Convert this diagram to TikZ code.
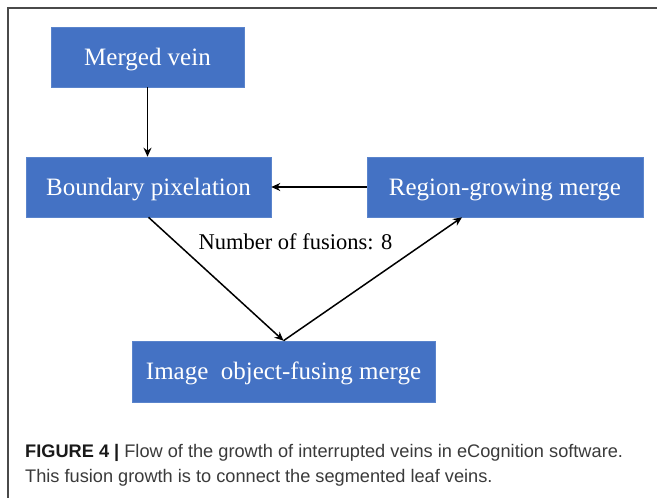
\documentclass[tikz,border=0pt]{standalone}
\usepackage{fontspec}
\setmainfont{Liberation Serif}
\newfontfamily\capfont{Liberation Sans}
\usetikzlibrary{arrows.meta,positioning}
\definecolor{boxblue}{HTML}{4472C4}
\definecolor{boxedge}{HTML}{5A84CC}
\definecolor{framegray}{HTML}{4A4A4A}
\definecolor{captext}{HTML}{3A3A3A}
\tikzset{
  flowbox/.style={rectangle, fill=boxblue, draw=boxedge, line width=0.6pt,
    text=white, font=\fontsize{25}{28}\selectfont, inner sep=0pt,
    text height=16.5pt, text depth=0pt, minimum height=60pt},
  flowarrow/.style={draw=black, line width=1.5pt, -{Stealth[length=9pt,width=8pt]}},
}
\begin{document}
\begin{tikzpicture}[x=1pt,y=-1pt]
\useasboundingbox (0,0) rectangle (657,498);
\fill[white] (0,0) rectangle (657,498);
% frame
\draw[framegray, line width=1.2pt] (8,498) -- (8,8) -- (657,8);
% boxes
\node[flowbox, minimum width=193pt] (merged) at (147.5,57) {Merged vein};
\node[flowbox, minimum width=245pt] (bound) at (148.5,187) {Boundary pixelation};
\node[flowbox, minimum width=276pt] (region) at (505,187) {Region-growing merge};
\node[flowbox, minimum width=303pt, minimum height=61pt] (image) at (283.5,371.5) {Image\ \ object-fusing merge};
\coordinate (regin) at ([xshift=-43pt]region.south);
\coordinate (bout) at (bound.south);
\coordinate (bin) at (merged.south |- bound.north);
% arrows
\draw[flowarrow] (merged.south) -- (bin);
\draw[flowarrow] (region.west) -- (bound.east);
\draw[flowarrow] (bout) -- (image.north);
\draw[flowarrow] (image.north) -- (regin);
% label
\node[anchor=base, inner sep=0pt, font=\fontsize{22.5}{26}\selectfont] (lab) at (295.5,249) {Number of fusions: 8};
% caption
\node[anchor=base west, inner sep=0pt, text=captext, font=\capfont\fontsize{18.2}{25}\selectfont] (cap1) at (25,457)
  {\textcolor{black!90}{\bfseries FIGURE 4 |} Flow of the growth of interrupted veins in eCognition software.};
\node[anchor=base west, inner sep=0pt, text=captext, font=\capfont\fontsize{18.2}{25}\selectfont] (cap2) at (25,482)
  {This fusion growth is to connect the segmented leaf veins.};
\end{tikzpicture}
\end{document}
